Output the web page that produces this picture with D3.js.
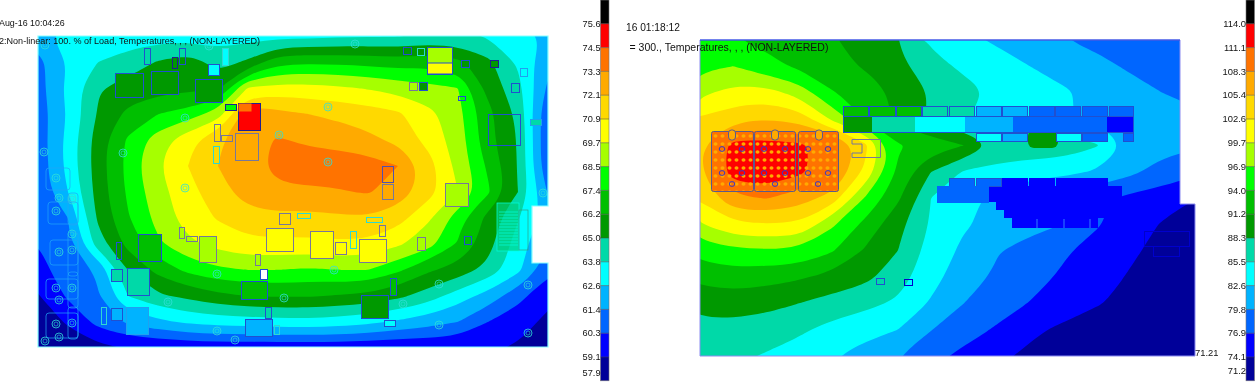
<!DOCTYPE html>
<html>
<head>
<meta charset="utf-8">
<script src="https://cdn.jsdelivr.net/npm/d3@7"></script>
<style>
  html, body { margin: 0; background: #fff; }
  svg { display: block; filter: blur(0.35px); }
  text { font-family: "Liberation Sans", Arial, sans-serif; fill: #111; }
</style>
</head>
<body>
<div id="grafico"></div>
<script>
const bandColors = ["#000099", "#0000ff", "#0066ff", "#00b3ff", "#00ffff", "#00d9a8", "#009900", "#00bf00",
                    "#00ff00", "#a6ff00", "#ffff00", "#ffd900", "#ffaa00", "#ff7300", "#ff0000", "#000000"];

const leftTicks  = [57.9, 59.1, 60.3, 61.4, 62.6, 63.8, 65.0, 66.2, 67.4, 68.5, 69.7, 70.9, 72.1, 73.3, 74.5, 75.6];
const rightTicks = [71.2, 74.1, 76.9, 79.8, 82.6, 85.5, 88.3, 91.2, 94.0, 96.9, 99.7, 102.6, 105.4, 108.3, 111.1, 114.0];

// temperatures, one row per grid line
const leftTemps = [
  [62.4,62.9,63.1,63.2,63.2,63.3,63.2,63.3,63.4,63.4,63.6,63.7,63.7,64.0,64.0,63.7,62.9,62.5],
  [61.0,62.6,63.8,64.3,65.1,65.6,64.5,65.2,67.0,67.2,67.1,67.0,66.8,67.0,66.5,65.3,63.6,61.7],
  [60.9,63.0,64.9,65.5,65.7,65.9,66.0,69.8,70.1,70.1,69.9,69.6,69.2,68.8,68.5,65.8,64.2,61.2],
  [60.7,62.7,65.1,66.5,67.4,67.9,69.1,73.0,72.5,72.1,71.8,71.5,71.1,70.1,68.9,66.6,64.7,60.3],
  [60.7,63.0,65.6,67.6,69.1,70.5,71.9,72.9,73.4,73.1,72.9,72.4,71.8,70.5,69.1,66.6,64.9,60.3],
  [60.6,63.0,65.6,67.8,69.6,70.9,72.1,72.9,73.6,73.9,73.9,73.9,73.3,71.5,69.3,67.2,64.9,60.3],
  [60.5,62.6,65.5,67.6,69.2,70.5,71.6,72.7,73.1,73.1,73.2,73.4,72.8,71.4,69.7,67.6,65.0,61.3],
  [60.4,61.4,65.2,67.3,68.9,70.3,71.0,71.6,71.8,71.7,71.9,72.0,71.4,69.9,67.9,65.8,63.9,62.0],
  [60.3,61.1,64.4,66.6,68.3,69.4,70.1,70.6,70.6,70.6,70.7,70.6,69.9,69.0,67.3,65.5,63.2,61.4],
  [60.1,60.6,61.6,65.0,66.6,67.7,68.3,68.5,68.5,68.3,68.5,68.5,67.6,66.4,65.7,64.6,62.9,60.6],
  [59.0,60.5,61.3,63.8,64.8,65.3,65.9,66.2,66.3,66.3,66.1,65.9,65.3,64.4,63.2,62.1,60.6,59.6],
  [58.6,59.2,60.7,61.6,62.3,62.8,63.1,63.2,63.3,63.4,63.2,62.9,62.4,61.9,61.4,60.3,59.8,58.7],
  [58.1,58.6,58.8,59.1,59.2,59.3,59.4,59.4,59.4,59.4,59.4,59.3,59.2,59.3,59.3,59.3,58.9,58.4]
];

const rightTemps = [
  [95.5,94.2,93.3,92.5,91.5,89.9,88.3,85.0,83.3,82.2,81.2,79.9,79.2,78.6,78.0,77.8],
  [96.3,96.9,94.9,93.5,92.2,90.9,89.0,86.6,84.9,83.8,82.6,81.5,80.5,79.5,78.6,78.0],
  [99.0,100.7,100.9,98.6,94.2,92.9,90.5,88.2,86.6,85.0,84.0,83.0,81.9,80.8,79.8,79.2],
  [102.9,104.3,105.3,104.3,99.2,94.0,90.3,87.7,85.5,84.3,83.5,82.8,82.0,81.3,80.8,80.3],
  [104.9,112.5,112.5,111.8,109.4,103.4,94.3,92.9,91.2,87.5,87.2,87.2,85.8,82.3,80.9,80.3],
  [104.9,113.0,114.0,111.8,109.1,102.0,93.5,88.3,85.2,84.6,84.0,83.5,82.3,80.6,78.6,77.5],
  [102.9,107.5,108.5,106.8,104.3,96.7,91.7,85.5,83.8,81.5,79.8,78.6,77.5,76.3,75.5,74.1],
  [99.4,102.2,102.4,102.3,97.4,93.2,89.2,85.2,82.9,81.8,80.8,79.8,77.2,75.5,73.9,72.9],
  [95.2,96.2,96.6,96.3,94.3,90.9,88.3,84.3,82.0,80.0,78.6,77.3,75.9,74.6,73.3,72.3],
  [92.0,92.6,92.2,91.6,90.3,89.0,86.9,83.5,81.2,79.3,77.9,76.5,75.3,73.9,72.9,72.1],
  [89.5,89.7,89.3,88.3,87.2,86.3,85.0,82.3,79.8,78.0,76.8,75.5,74.3,73.5,72.6,71.8],
  [87.3,87.2,86.6,86.0,84.6,83.5,82.6,79.9,78.0,76.6,74.6,73.6,72.9,72.3,71.9,71.5],
  [86.5,86.0,85.3,84.2,82.9,81.5,79.9,77.8,76.2,74.6,73.6,72.9,72.3,72.1,71.8,71.5]
];

// parts: x, y, w, h, temperature of the fill (null = outline only), outline colour
const blueEdge = "#2050d0", greyEdge = "#77779a", tealEdge = "#30d8d0", darkEdge = "#202090";

const leftParts = [
  [144,48,6,16,null,blueEdge],[172,57,5,11,65.6,darkEdge],[179,48,6,16,null,blueEdge],[222,48,6,17,63.2,tealEdge],
  [208,64,11,11,63.2,blueEdge],[115,73,28,24,65.6,blueEdge],[151,71,27,23,65.6,blueEdge],[195,79,27,23,65.6,blueEdge],
  [225,104,11,6,68,darkEdge],[238,103,22,27,75,darkEdge],[214,124,6,17,null,greyEdge],[221,135,11,6,null,greyEdge],
  [235,133,23,27,72.7,greyEdge],[213,146,6,17,null,tealEdge],
  [403,47,8,7,65.6,blueEdge],[417,48,7,7,null,tealEdge],[427,47,25,27,69.1,blueEdge],[461,60,8,7,65.6,blueEdge],
  [490,60,8,7,65.6,darkEdge],[520,68,7,8,null,"#20a0f0"],[511,83,8,9,63.8,blueEdge],[409,82,8,8,69.1,greyEdge],
  [419,82,8,8,65.6,blueEdge],[458,96,7,4,null,blueEdge],[488,114,32,31,null,blueEdge],[530,119,11,6,64.4,"#20a0f0"],
  [382,166,11,16,null,"#5050b0"],[382,184,11,15,72.7,greyEdge],[445,183,23,23,69.1,greyEdge],
  [179,227,5,11,null,greyEdge],[186,236,11,5,null,greyEdge],[199,236,17,26,69.1,greyEdge],[279,213,11,11,71.5,greyEdge],
  [266,228,27,23,70.3,greyEdge],[116,242,5,17,null,blueEdge],[138,234,23,27,66.8,blueEdge],[111,269,11,12,64.4,blueEdge],
  [127,268,22,27,64.4,blueEdge],[101,307,5,17,null,tealEdge],[111,308,11,12,62,blueEdge],[126,307,22,27,62,"#20a0f0"],
  [255,254,5,11,null,greyEdge],[260,269,7,10,null,blueEdge],[241,281,26,18,66.8,blueEdge],[265,307,6,11,64.4,blueEdge],
  [245,319,27,17,62,blueEdge],[274,325,5,9,null,tealEdge],[297,213,13,5,null,tealEdge],
  [310,231,23,27,70.3,greyEdge],[335,242,11,12,70.3,greyEdge],[350,231,6,17,null,tealEdge],[359,239,27,23,70.3,greyEdge],
  [379,225,6,11,null,greyEdge],[366,217,16,5,null,tealEdge],[417,237,8,13,69.1,greyEdge],[464,236,7,8,66.8,blueEdge],
  [390,278,6,17,66.8,blueEdge],[361,295,27,23,65.6,blueEdge],[384,320,11,6,63.2,blueEdge]
];
const leftHoles = [
  [45,45],[209,46],[185,118],[123,153],[279,135],[185,188],[355,44],[328,107],[328,162],[44,152],[334,270],[439,284],
  [403,304],[439,325],[528,285],[528,333],[543,193],[217,274],[284,298],[168,302],[217,331],[235,340],[45,341],
  [59,198],[72,198],[56,178],[72,200],[56,211],[72,234],[59,252],[72,250],[56,288],[72,288],[59,300],[56,324],[72,323],[59,337]
];
const leftLobes = [[46,168,24,22],[48,202,30,22],[50,240,28,25],[46,279,32,20],[46,313,32,25],[68,193,10,32],[68,232,10,44],[68,272,10,36],[68,307,10,32]];

const rightParts = [
  [843,106,25,10,92.6,blueEdge],[869,106,26,10,92.6,blueEdge],[896,106,25,10,92.6,blueEdge],[922,106,25,10,86.9,blueEdge],
  [949,106,25,10,86.9,blueEdge],[976,106,25,10,81.2,blueEdge],[1002,106,25,10,81.2,blueEdge],[1029,106,25,10,78.4,blueEdge],
  [1055,106,25,10,78.4,blueEdge],[1082,106,25,10,78.4,blueEdge],[1109,106,24,10,78.4,blueEdge],
  [976,133,25,8,84,blueEdge],[1002,133,25,8,81.2,blueEdge],[1056,133,25,8,84,blueEdge],[1082,133,25,8,78.4,blueEdge],[1123,133,10,8,78.4,blueEdge],
  [949,178,25,8,78.4,blueEdge],[976,178,25,8,78.4,blueEdge],[1002,178,25,8,75.5,"#0000ff"],[1029,178,25,8,75.5,"#0000ff"],
  [1056,178,25,8,75.5,"#0000ff"],[1082,178,25,8,75.5,"#0000ff"],[937,186,51,16,78.4,"#0066ff"],
  [876,278,8,6,null,blueEdge],[904,279,8,6,null,"#0000cc"],[1144,231,45,15,null,"#0000cc"],[1153,246,26,10,null,"#0000cc"]
];
// the long bar above the gap is split where its colour changes: x, width, temperature
const barSections = [[843,29,89.7],[872,43,86.9],[915,50,84],[965,48,81.2],[1013,94,78.4],[1107,26,75.5]];
const coolSpot = [988,186,134,16, 996,202,125,8, 1004,210,120,8, 1012,218,86,10];
const boards = [[711,131,42,60],[754,131,41,60],[798,131,40,60]];
const boardHoles = [[722,149],[742,149],[722,173],[742,173],[732,184],[764,149],[785,149],[764,173],[785,173],[775,184],[808,149],[828,149],[808,173],[828,173],[818,184]];

const width = 1258, height = 382;

const svg = d3.select("#grafico").append("svg")
              .attr("width", width)
              .attr("height", height);

const defs = svg.append("defs");
const dots = defs.append("pattern").attr("id", "dots").attr("patternUnits", "userSpaceOnUse")
                 .attr("width", 7).attr("height", 8).attr("x", 712).attr("y", 132);
dots.append("ellipse").attr("cx", 3.5).attr("cy", 4).attr("rx", 2).attr("ry", 1.7).attr("fill", "#ffaa00");

function drawField(grid, ticks, xRange, yRange, outline, id) {
    const rows = grid.length, cols = grid[0].length;
    const xScale = d3.scaleLinear().domain([0, cols - 1]).range(xRange);
    const yScale = d3.scaleLinear().domain([0, rows - 1]).range(yRange);
    const color = d3.scaleThreshold().domain(ticks.slice(1)).range(bandColors);

    defs.append("clipPath").attr("id", id).append("polygon").attr("points", outline.join(" "));
    const g = svg.append("g").attr("clip-path", `url(#${id})`);

    g.append("polygon").attr("points", outline.join(" ")).attr("fill", bandColors[0]);

    const contours = d3.contours().size([cols, rows]).thresholds(ticks.slice(1))(grid.flat());
    const line = d3.line()
                   .x(p => xScale(p[0] - 0.5))
                   .y(p => yScale(p[1] - 0.5))
                   .curve(d3.curveBasisClosed);
    const smoothPath = d => d.coordinates.flat().map(ring => line(ring.slice(0, -1))).join("");
    g.selectAll("path").data(contours).join("path")
     .attr("d", smoothPath)
     .attr("fill-rule", "evenodd")
     .attr("fill", d => color(d.value));
    return { g, color, contours, smoothPath };
}

function drawParts(layer, parts, color) {
    layer.selectAll("rect.part").data(parts).join("rect")
         .attr("class", "part")
         .attr("x", d => d[0] + 0.5).attr("y", d => d[1] + 0.5)
         .attr("width", d => d[2]).attr("height", d => d[3])
         .attr("fill", d => d[4] === null ? "none" : color(d[4]))
         .attr("stroke", d => d[5]);
}

function drawLegend(ticks, x, lastY, size) {
    const yScale = d3.scaleLinear().domain([0, 16]).range([0, 380.8]);
    const color = bandColors.slice().reverse();
    svg.append("g").selectAll("rect").data(color).join("rect")
       .attr("x", x).attr("width", 8.5)
       .attr("y", (d, i) => yScale(i))
       .attr("height", yScale(1))
       .attr("fill", d => d);
    svg.append("rect").attr("x", x).attr("y", 0).attr("width", 8.5).attr("height", 380.8)
       .attr("fill", "none").attr("stroke", "#777").attr("stroke-width", 0.6);
    const labels = ticks.slice().reverse();
    svg.append("g").selectAll("line").data(labels.slice(0, 15)).join("line")
       .attr("x1", x).attr("x2", x + 8.5)
       .attr("y1", (d, i) => yScale(i + 1)).attr("y2", (d, i) => yScale(i + 1))
       .attr("stroke", "#444").attr("stroke-width", 0.5);
    svg.append("g").selectAll("text").data(labels).join("text")
       .attr("x", x)
       .attr("y", (d, i) => (i === 15 ? lastY : yScale(i + 1)) + 3.2)
       .attr("text-anchor", "end")
       .attr("font-size", size)
       .text(d => d.toFixed(1));
}

// left picture
const leftOutline = [[38,36],[548,36],[548,206],[532,206],[532,263],[548,263],[548,347],[38,347]];
const left = drawField(leftTemps, leftTicks, [38, 548], [36, 348], leftOutline, "clipLeft");
left.g.append("g").selectAll("circle").data(leftHoles).join("circle")
      .attr("cx", d => d[0]).attr("cy", d => d[1]).attr("r", 4)
      .attr("fill", "none").attr("stroke", "#30e0d8").attr("stroke-width", 0.8);
left.g.append("g").selectAll("circle").data(leftHoles).join("circle")
      .attr("cx", d => d[0]).attr("cy", d => d[1]).attr("r", 2)
      .attr("fill", "none").attr("stroke", "#30e0d8").attr("stroke-width", 0.6);
left.g.append("g").selectAll("rect").data(leftLobes).join("rect")
      .attr("x", d => d[0]).attr("y", d => d[1]).attr("width", d => d[2]).attr("height", d => d[3]).attr("rx", 3)
      .attr("fill", "none").attr("stroke", "#20a8f8").attr("stroke-width", 0.7);
const leftLayer = left.g.append("g");
drawParts(leftLayer, leftParts, left.color);
// hot corner of the big part, white cap and yellow foot of the top one
leftLayer.append("rect").attr("x", 238.5).attr("y", 103.5).attr("width", 13).attr("height", 8).attr("fill", "#ff7300");
leftLayer.append("rect").attr("x", 427.5).attr("y", 63).attr("width", 25).attr("height", 11).attr("fill", "#ffff00").attr("stroke", blueEdge);
leftLayer.append("rect").attr("x", 260.5).attr("y", 269.5).attr("width", 7).attr("height", 10).attr("fill", "#fff").attr("stroke", blueEdge);

// connector block at the notch
const connector = left.g.append("g").attr("stroke", "#00ffe0").attr("stroke-width", 0.7);
connector.append("rect").attr("x", 497).attr("y", 203).attr("width", 22).attr("height", 48).attr("fill", "#00d080").attr("fill-opacity", 0.7);
connector.selectAll("line").data(d3.range(212, 246, 3)).join("line")
         .attr("x1", 499).attr("x2", 518).attr("y1", d => d).attr("y2", d => d);
connector.append("rect").attr("x", 519).attr("y", 210).attr("width", 9).attr("height", 40).attr("fill", "none").attr("stroke", "#30a080");

// board edge
svg.append("polygon").attr("points", leftOutline.join(" ")).attr("fill", "none").attr("stroke", "#88ffff").attr("stroke-width", 1.2);

// right picture
const rightOutline = [[700,40],[1180,40],[1180,204],[1195,204],[1195,356],[700,356]];
const right = drawField(rightTemps, rightTicks, [700, 1195], [40, 356], rightOutline, "clipRight");
const rightLayer = right.g.append("g");

rightLayer.append("rect").attr("x", 1028).attr("y", 130).attr("width", 30).attr("height", 18).attr("rx", 6).attr("fill", "#009900");
rightLayer.selectAll("rect.bar").data(barSections).join("rect")
          .attr("class", "bar")
          .attr("x", d => d[0]).attr("y", 116).attr("width", d => d[1]).attr("height", 17)
          .attr("fill", d => right.color(d[2]));
rightLayer.append("rect").attr("x", 843.5).attr("y", 116.5).attr("width", 290).attr("height", 16)
          .attr("fill", "none").attr("stroke", blueEdge);
rightLayer.append("g").selectAll("rect").data(d3.range(0, coolSpot.length, 4)).join("rect")
          .attr("x", i => coolSpot[i]).attr("y", i => coolSpot[i + 1])
          .attr("width", i => coolSpot[i + 2]).attr("height", i => coolSpot[i + 3])
          .attr("fill", "#0000ff");
drawParts(rightLayer, rightParts, right.color);

// boards: orange base, the hottest band on top of it, then the dotted copper
const boardLayer = right.g.append("g");
boardLayer.selectAll("rect.base").data(boards).join("rect")
          .attr("class", "base")
          .attr("x", d => d[0] + 0.5).attr("y", d => d[1] + 0.5)
          .attr("width", d => d[2]).attr("height", d => d[3]).attr("rx", 2)
          .attr("fill", "#ff7300");
boardLayer.selectAll("path").data(right.contours.filter(d => d.value === 111.1)).join("path")
          .attr("d", right.smoothPath)
          .attr("fill-rule", "evenodd")
          .attr("fill", "#ff0000");
boardLayer.selectAll("rect.pcb").data(boards).join("rect")
          .attr("class", "pcb")
          .attr("x", d => d[0] + 0.5).attr("y", d => d[1] + 0.5)
          .attr("width", d => d[2]).attr("height", d => d[3]).attr("rx", 2)
          .attr("fill", "url(#dots)").attr("stroke", "#5a5a8c");
boardLayer.selectAll("rect.notch").data(boards).join("rect")
          .attr("class", "notch")
          .attr("x", d => d[0] + 17.5).attr("y", d => d[1] - 1)
          .attr("width", 7).attr("height", 10).attr("rx", 3)
          .attr("fill", "#ffaa00").attr("stroke", "#5a5a8c");
boardLayer.selectAll("ellipse").data(boardHoles).join("ellipse")
          .attr("cx", d => d[0]).attr("cy", d => d[1]).attr("rx", 2.8).attr("ry", 2.4)
          .attr("fill", "none").attr("stroke", "#3838c8");
right.g.append("polyline")
       .attr("points", [[852,144],[852,139.5],[880.5,139.5],[880.5,157.5],[852,157.5],[852,153],[862,153],[862,144],[852,144]].join(" "))
       .attr("fill", "none").attr("stroke", "#77779a");
rightLayer.append("g").selectAll("line").data([1037, 1064, 1090]).join("line")
          .attr("x1", d => d).attr("x2", d => d).attr("y1", 219).attr("y2", 228)
          .attr("stroke", "#40a0ff").attr("stroke-width", 0.8);

svg.append("polygon").attr("points", rightOutline.join(" ")).attr("fill", "none").attr("stroke", "#8c8cf0").attr("stroke-width", 1);
svg.append("line").attr("x1", 700).attr("x2", 1180).attr("y1", 40).attr("y2", 40).attr("stroke", "#2040e0");

// legends
drawLegend(leftTicks, 600.5, 372.5, 9.2);
drawLegend(rightTicks, 1246, 371, 9.4);

// captions
const captions = [
  ["Aug-16 10:04:26", -1, 26, 8.9],
  ["2:Non-linear: 100. % of Load, Temperatures, , , (NON-LAYERED)", -1, 44, 9.05],
  ["16 01:18:12", 626, 30.5, 10.2],
  ["= 300., Temperatures, , , (NON-LAYERED)", 629.5, 50.5, 10.5],
  ["71.21", 1195, 355.5, 9.4]
];
svg.append("g").selectAll("text").data(captions).join("text")
   .attr("x", d => d[1]).attr("y", d => d[2]).attr("font-size", d => d[3])
   .text(d => d[0]);
</script>
</body>
</html>
